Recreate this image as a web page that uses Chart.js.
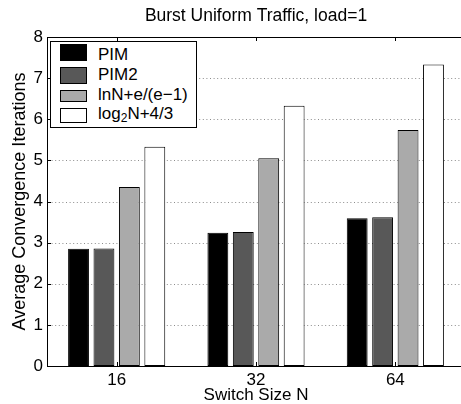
<!DOCTYPE html>
<html>
<head>
<meta charset="utf-8">
<script src="https://cdn.jsdelivr.net/npm/chart.js@4/dist/chart.umd.min.js"></script>
<style>
  html, body { margin: 0; padding: 0; background: #fff; overflow: hidden; }
  #wrap { position: relative; width: 461px; height: 404px; overflow: hidden; background: #fff; }
  #c { position: absolute; left: 0; top: 0; }
  #legend { position: absolute; left: 50px; top: 41px; width: 145px; height: 85px; border: 1px solid #000; background: #fff;
            font-family: "Liberation Sans", Arial, Helvetica, sans-serif; font-size: 17px; color: #000; }
  .sw { position: absolute; left: 9px; width: 27px; border: 1px solid #000; box-sizing: border-box; }
  .lt { position: absolute; left: 47px; line-height: 19px; white-space: nowrap; }
  .lt sub { font-size: 12px; vertical-align: -3px; line-height: 0; }
</style>
</head>
<body>
<div id="wrap">
  <canvas id="c" width="469" height="404"></canvas>
  <div id="legend"></div>
</div>
<script>
const titleText = 'Burst Uniform Traffic, load=1';
const xTitle = 'Switch Size N';
const yTitle = 'Average Convergence Iterations';
const categories = ['16', '32', '64'];
const seriesLabels = ['PIM', 'PIM2', 'lnN+e/(e\u22121)', 'log\u2082N+4/3'];
const pimValues = [2.85, 3.24, 3.59];
const pim2Values = [2.86, 3.26, 3.62];
const lnValues = [4.35, 5.05, 5.74];
const log2Values = [5.33, 6.33, 7.33];
const yTicks = [0, 1, 2, 3, 4, 5, 6, 7, 8];

const seriesColors = ['#000000', '#585858', '#aaaaaa', '#ffffff'];
const FONT = '"Liberation Sans", Arial, Helvetica, sans-serif';

const allValues = [pimValues, pim2Values, lnValues, log2Values];
const datasets = allValues.map((vals, i) => ({
  label: seriesLabels[i],
  data: vals,
  backgroundColor: seriesColors[i],
  borderColor: '#000',
  borderWidth: 1,
  borderSkipped: false,
  categoryPercentage: 0.73,
  barPercentage: 0.82
}));

const boxPlugin = {
  id: 'matlabBox',
  beforeDatasetsDraw(chart) {
    const ctx = chart.ctx, a = chart.chartArea;
    const x = chart.scales.x, y = chart.scales.y;
    ctx.save();
    // dotted grid lines at y ticks
    ctx.strokeStyle = '#8c8c8c';
    ctx.lineWidth = 1;
    ctx.setLineDash([1, 2.6]);
    ctx.beginPath();
    yTicks.forEach(v => {
      if (v === y.min || v === y.max) return;
      const py = Math.round(y.getPixelForValue(v)) + 0.5;
      ctx.moveTo(Math.round(a.left) + 1, py); ctx.lineTo(a.right, py);
    });
    ctx.stroke();
    ctx.setLineDash([]);
    ctx.strokeStyle = '#000';
    ctx.beginPath();
    // inward ticks on x (bottom and top)
    categories.forEach((c, i) => {
      const px = Math.round(x.getPixelForValue(i)) + 0.5;
      ctx.moveTo(px, Math.round(a.bottom)); ctx.lineTo(px, Math.round(a.bottom) - 4);
      ctx.moveTo(px, Math.round(a.top)); ctx.lineTo(px, Math.round(a.top) + 4);
    });
    // inward ticks on y (left)
    yTicks.forEach(v => {
      const py = Math.round(y.getPixelForValue(v)) + 0.5;
      ctx.moveTo(Math.round(a.left), py); ctx.lineTo(Math.round(a.left) + 4, py);
    });
    ctx.stroke();
    ctx.restore();
  },
  afterDatasetsDraw(chart) {
    const ctx = chart.ctx, a = chart.chartArea;
    ctx.save();
    ctx.strokeStyle = '#000';
    ctx.lineWidth = 1;
    const l = Math.round(a.left) + 0.5, t = Math.round(a.top) + 0.5, b = Math.round(a.bottom) + 0.5, r = Math.round(a.right) + 0.5;
    ctx.beginPath();
    ctx.moveTo(r, t); ctx.lineTo(l, t); ctx.lineTo(l, b); ctx.lineTo(r, b);
    ctx.stroke();
    ctx.restore();
  }
};

new Chart(document.getElementById('c'), {
  type: 'bar',
  data: { labels: categories, datasets },
  options: {
    responsive: false,
    animation: false,
    devicePixelRatio: 1,
    layout: { padding: { left: 0, right: 4, top: 0, bottom: 0 } },
    plugins: {
      legend: { display: false },
      tooltip: { enabled: false },
      title: {
        display: true,
        fullSize: false,
        text: titleText,
        color: '#000',
        font: { family: FONT, size: 17.5, weight: 'normal', lineHeight: 1.2 },
        padding: { top: 6, bottom: 10 }
      }
    },
    scales: {
      x: {
        grid: { display: false, drawTicks: false },
        border: { display: false },
        ticks: { color: '#000', font: { family: FONT, size: 17 }, padding: 4, maxRotation: 0 },
        title: { display: true, text: xTitle, color: '#000', font: { family: FONT, size: 17, lineHeight: 1.0 }, padding: { top: 0, bottom: 0 } },
        afterFit(s) { s.height = 38; }
      },
      y: {
        min: 0, max: 8,
        grid: { display: false, drawTicks: false },
        border: { display: false },
        ticks: { stepSize: 1, color: '#000', font: { family: FONT, size: 17 }, padding: 4 },
        title: { display: true, text: yTitle, color: '#000', font: { family: FONT, size: 18, lineHeight: 1.2 }, padding: { top: 9, bottom: 0 } },
        afterFit(s) { s.width = 47; }
      }
    }
  },
  plugins: [boxPlugin]
});

// HTML legend built from the datasets
const legend = document.getElementById('legend');
const swatchTops = [2, 25, 48, 66];
const swatchHeights = [17, 17, 12, 15];
const textTops = [3, 23, 43, 62];
datasets.forEach((d, i) => {
  const sw = document.createElement('div');
  sw.className = 'sw';
  sw.style.top = swatchTops[i] + 'px';
  sw.style.height = swatchHeights[i] + 'px';
  sw.style.background = d.backgroundColor;
  legend.appendChild(sw);
  const t = document.createElement('div');
  t.className = 'lt';
  t.style.top = textTops[i] + 'px';
  const parts = d.label.split('\u2082');
  if (parts.length > 1) {
    t.appendChild(document.createTextNode(parts[0]));
    const sub = document.createElement('sub');
    sub.textContent = '2';
    t.appendChild(sub);
    t.appendChild(document.createTextNode(parts[1]));
  } else {
    t.textContent = d.label;
  }
  legend.appendChild(t);
});
</script>
</body>
</html>
